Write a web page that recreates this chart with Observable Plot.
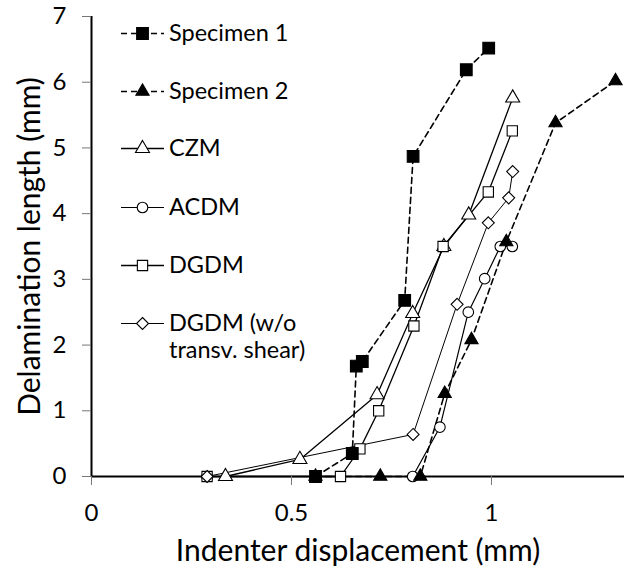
<!DOCTYPE html>
<html><head><meta charset="utf-8">
<script src="https://cdn.jsdelivr.net/npm/d3@7"></script>
<script src="https://cdn.jsdelivr.net/npm/@observablehq/plot@0.6"></script>
<style>
body{margin:0;background:#fff;}
#wrap{position:relative;width:624px;height:577px;font-family:Lato,sans-serif;color:#000;}
#legend{position:absolute;left:121px;top:0;}
.item{position:absolute;left:0;display:flex;align-items:flex-start;white-space:nowrap;font-size:23.5px;line-height:27px;}
.item svg{flex:none;margin-right:5px;}
</style></head><body><div id="wrap"></div>
<script>
// ---- data ----
const seriesNames = ["Specimen 1","Specimen 2","CZM","ACDM","DGDM","DGDM (w/o transv. shear)"];
const legendLines = [["Specimen 1"],["Specimen 2"],["CZM"],["ACDM"],["DGDM"],["DGDM (w/o","transv. shear)"]];
const spec1X = [0.56, 0.652, 0.662, 0.677, 0.783, 0.804, 0.937, 0.993];
const spec1Y = [0, 0.35, 1.68, 1.75, 2.68, 4.87, 6.19, 6.52];
const spec2X = [0.56, 0.722, 0.822, 0.883, 0.95, 1.037, 1.16, 1.31];
const spec2Y = [0, 0, 0, 1.26, 2.08, 3.57, 5.38, 6.02];
const czmX = [0.335, 0.521, 0.714, 0.803, 0.881, 0.943, 1.053];
const czmY = [0, 0.26, 1.245, 2.48, 3.5, 3.98, 5.76];
const acdmX = [0.289, 0.803, 0.871, 0.942, 0.983, 1.022, 1.052];
const acdmY = [0, 0, 0.75, 2.5, 3.01, 3.5, 3.5];
const dgdmX = [0.289, 0.6225, 0.671, 0.718, 0.806, 0.879, 0.992, 1.052];
const dgdmY = [0, 0, 0.42, 1.0, 2.29, 3.5, 4.33, 5.26];
const dgdmNoX = [0.289, 0.804, 0.914, 0.992, 1.043, 1.053];
const dgdmNoY = [0, 0.64, 2.62, 3.86, 4.24, 4.64];
const xTicks = [0, 0.5, 1];
const yTicks = [0, 1, 2, 3, 4, 5, 6, 7];
const xTitle = "Indenter displacement (mm)";
const yTitle = "Delamination length (mm)";

const seriesData = [
  [spec1X, spec1Y], [spec2X, spec2Y], [czmX, czmY], [acdmX, acdmY], [dgdmX, dgdmY], [dgdmNoX, dgdmNoY]
].map(([xs, ys], i) => xs.map((x, j) => ({series: seriesNames[i], x, y: ys[j]})));

// ---- styles ----
const styles = [
  {symbol: "square", fill: "black", r: 6.6, dash: "6,4", sw: 1.6},
  {symbol: "triangle", fill: "black", r: 4.9, dash: "6,4", sw: 1.6},
  {symbol: "triangle", fill: "white", r: 5.2, dash: null, sw: 1.3},
  {symbol: "circle", fill: "white", r: 5.3, dash: null, sw: 1.2},
  {symbol: "square", fill: "white", r: 5.8, dash: null, sw: 1.3},
  {symbol: "diamond2", fill: "white", r: 5.4, dash: null, sw: 1.0}
];
const drawOrder = [2, 3, 4, 5, 0, 1];

const marks = [];
for (const i of drawOrder) {
  const s = styles[i];
  marks.push(Plot.line(seriesData[i], {x: "x", y: "y", stroke: "black", strokeWidth: s.sw, strokeDasharray: s.dash}));
}
marks.push(Plot.ruleY([0], {stroke: "black", strokeWidth: 2}));
marks.push(Plot.ruleX([0], {stroke: "black", strokeWidth: 2}));
for (const i of drawOrder) {
  const s = styles[i];
  marks.push(Plot.dot(seriesData[i], {x: "x", y: "y", symbol: () => s.symbol, r: s.r, fill: s.fill, stroke: "black", strokeWidth: 1.1}));
}
marks.push(Plot.axisX({ticks: xTicks, tickSize: 9, tickPadding: 18, fontSize: 24, stroke: "#777", fill: "black", label: null, tickFormat: d => String(d)}));
marks.push(Plot.axisY({ticks: yTicks, tickSize: 9, tickPadding: 16, fontSize: 24, stroke: "#777", fill: "black", label: null, tickFormat: d => String(d)}));
marks.push(Plot.text([xTitle], {frameAnchor: "bottom", textAnchor: "middle", dy: 84, fontSize: 30, fill: "black"}));
marks.push(Plot.text([yTitle], {frameAnchor: "left", textAnchor: "middle", dx: -61, rotate: -90, fontSize: 30, fill: "black"}));

const chart = Plot.plot({
  width: 624, height: 577,
  marginLeft: 91, marginRight: 0, marginTop: 16, marginBottom: 101,
  style: {fontFamily: "Lato, sans-serif", background: "white", overflow: "visible"},
  x: {domain: [0, 1.3325]},
  y: {domain: [0, 7]},
  symbol: {domain: ["square", "triangle", "circle", "diamond2"], range: ["square", "triangle", "circle", "diamond2"]},
  marks
});
const wrap = document.getElementById("wrap");
wrap.appendChild(chart);

// ---- legend (HTML overlay) ----
const legend = document.createElement("div");
legend.id = "legend";
const rowTops = [19, 77, 134, 193, 251, 309];
const symMap = {square: d3.symbolSquare, triangle: d3.symbolTriangle, circle: d3.symbolCircle, diamond2: d3.symbolDiamond2};
legendLines.forEach((lines, i) => {
  const s = styles[i];
  const item = document.createElement("div");
  item.className = "item";
  item.style.top = rowTops[i] + "px";
  const svg = d3.create("svg").attr("width", 43).attr("height", 27);
  svg.append("line").attr("x1", 0).attr("x2", 43).attr("y1", 14.5).attr("y2", 14.5)
    .attr("stroke", "black").attr("stroke-width", s.sw).attr("stroke-dasharray", s.dash ? "6,4" : null);
  svg.append("path").attr("transform", "translate(21.5,14.5)")
    .attr("d", d3.symbol(symMap[s.symbol], Math.PI * s.r * s.r)())
    .attr("fill", s.fill).attr("stroke", "black").attr("stroke-width", 1.1);
  item.appendChild(svg.node());
  const txt = document.createElement("div");
  txt.innerHTML = lines.join("<br>");
  item.appendChild(txt);
  legend.appendChild(item);
});
wrap.appendChild(legend);
</script>
</body></html>
